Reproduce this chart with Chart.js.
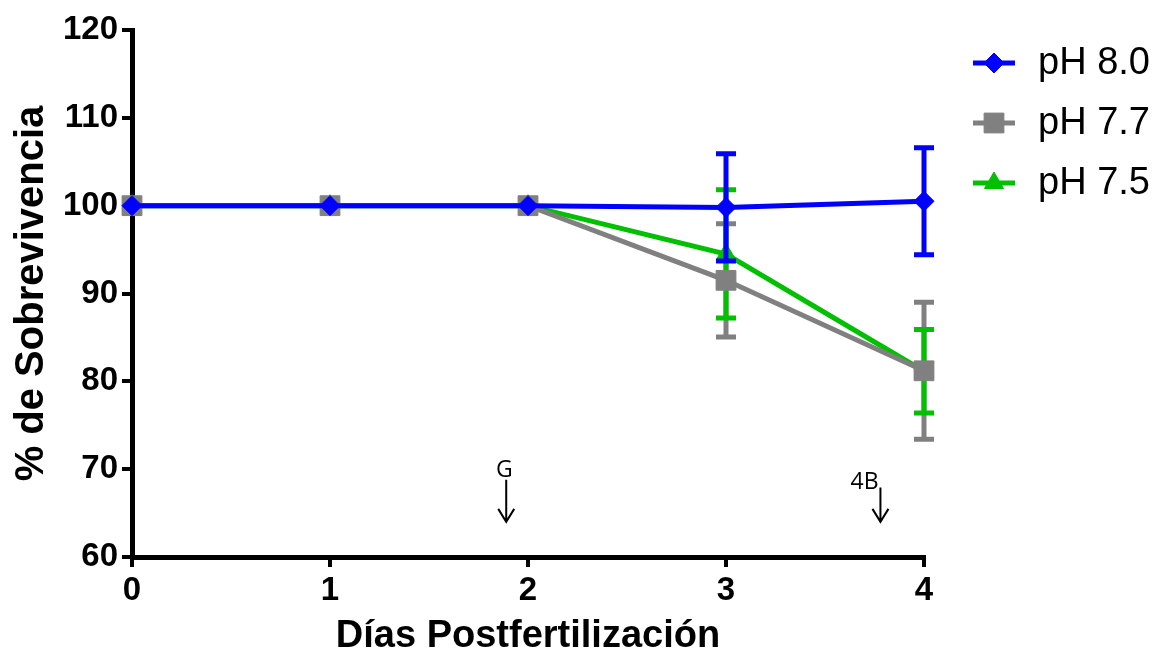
<!DOCTYPE html>
<html>
<head>
<meta charset="utf-8">
<script src="https://cdn.jsdelivr.net/npm/chart.js@4/dist/chart.umd.min.js"></script>
<style>
  body { margin: 0; background: #fff; }
  #wrap { width: 1155px; height: 656px; }
</style>
</head>
<body>
<div id="wrap"><canvas id="surv" width="1155" height="656"></canvas></div>
<script>
const days = [0, 1, 2, 3, 4];

const ph80 = [100, 100, 100, 99.8, 100.5];
const err80 = [0, 0, 0, 6.1, 6.1];
const ph77 = [100, 100, 100, 91.5, 81.2];
const err77 = [0, 0, 0, 6.45, 7.8];
const ph75 = [100, 100, 100, 94.5, 81.15];
const err75 = [0, 0, 0, 7.3, 4.75];

// stage marks under the curves
const stageText = ['G', '4B'];
const stageDay = [1.89, 3.78];
const stageTop = [68.8, 67.9];
const stageTip = [64.0, 64.0];
const stageLabelDay = [1.88, 3.70];
const stageLabelY = [69.9, 68.5];

const FONT = "'Liberation Sans', Arial, sans-serif";
const BLUE = '#0000ff', GRAY = '#808080', GREEN = '#00c000';

const pts = (ys) => days.map((d, i) => ({ x: d, y: ys[i] }));

const series = (label, ys, err, color, style, radius, order) => ({
  label, data: pts(ys), err,
  borderColor: color, backgroundColor: color, borderWidth: 5,
  pointStyle: style, pointRadius: radius, pointHoverRadius: radius,
  pointBackgroundColor: color, pointBorderColor: color, pointBorderWidth: 1,
  tension: 0, order, clip: false,
});

function errBars(chart, idx) {
  const ds = chart.data.datasets[idx];
  const { x, y } = chart.scales;
  const ctx = chart.ctx;
  ctx.save();
  ctx.strokeStyle = ds.borderColor;
  ctx.lineWidth = 5;
  ds.data.forEach((p, i) => {
    const e = ds.err[i];
    if (!e) return;
    const px = x.getPixelForValue(p.x);
    const hi = y.getPixelForValue(p.y + e), lo = y.getPixelForValue(p.y - e);
    ctx.beginPath();
    ctx.moveTo(px, hi); ctx.lineTo(px, lo);
    ctx.moveTo(px - 10, hi); ctx.lineTo(px + 10, hi);
    ctx.moveTo(px - 10, lo); ctx.lineTo(px + 10, lo);
    ctx.stroke();
  });
  ctx.restore();
}

const errorBars = {
  id: 'errorBars',
  // gray and green bars sit under every curve, blue bars right under the blue curve
  beforeDatasetsDraw(chart) { errBars(chart, 1); errBars(chart, 2); },
  beforeDatasetDraw(chart, args) { if (args.index === 0) errBars(chart, 0); },
};

const sideLegend = {
  id: 'sideLegend',
  afterDraw(chart) {
    const ctx = chart.ctx;
    chart.data.datasets.forEach((ds, i) => {
      const cy = 63 + i * 60;
      ctx.save();
      ctx.strokeStyle = ds.borderColor;
      ctx.fillStyle = ds.backgroundColor;
      ctx.lineWidth = 5;
      ctx.beginPath(); ctx.moveTo(973, cy); ctx.lineTo(1015, cy); ctx.stroke();
      ctx.lineWidth = 1;
      Chart.helpers.drawPoint(ctx, { pointStyle: ds.pointStyle, radius: ds.pointRadius, rotation: 0, borderWidth: 1 }, 994, cy);
      ctx.fillStyle = '#000';
      ctx.font = '38px ' + FONT;
      ctx.textBaseline = 'middle';
      ctx.fillText(ds.label, 1038, cy + 1);
      ctx.restore();
    });
  },
};

const stages = {
  id: 'stages',
  afterDraw(chart) {
    const { x, y } = chart.scales;
    const ctx = chart.ctx;
    ctx.save();
    ctx.strokeStyle = '#000';
    ctx.fillStyle = '#000';
    ctx.lineWidth = 2;
    ctx.font = "23px 'Open Sans', sans-serif";
    ctx.textAlign = 'center';
    ctx.textBaseline = 'middle';
    stageText.forEach((t, i) => {
      const px = x.getPixelForValue(stageDay[i]);
      const top = y.getPixelForValue(stageTop[i]), tip = y.getPixelForValue(stageTip[i]);
      ctx.beginPath();
      ctx.moveTo(px, top); ctx.lineTo(px, tip);
      ctx.moveTo(px - 8, tip - 13); ctx.lineTo(px, tip); ctx.lineTo(px + 8, tip - 13);
      ctx.stroke();
      ctx.fillText(t, x.getPixelForValue(stageLabelDay[i]), y.getPixelForValue(stageLabelY[i]));
    });
    ctx.restore();
  },
};

new Chart(document.getElementById('surv'), {
  type: 'line',
  data: { datasets: [
    series('pH 8.0', ph80, err80, BLUE, 'rectRot', 10, 1),
    series('pH 7.7', ph77, err77, GRAY, 'rect', 14, 2),
    series('pH 7.5', ph75, err75, GREEN, 'triangle', 11, 3),
  ]},
  options: {
    responsive: false, animation: false,
    layout: { padding: { left: 0, right: 231, top: 30, bottom: 0 } },
    plugins: { legend: { display: false }, tooltip: { enabled: false } },
    scales: {
      x: {
        type: 'linear', min: 0, max: 4,
        afterFit: s => { s.height = 99; },
        ticks: { stepSize: 1, color: '#000', padding: 4, font: { family: FONT, size: 33, weight: 'bold' } },
        grid: { drawOnChartArea: false, tickLength: 10, lineWidth: 4, color: '#000' },
        border: { color: '#000', width: 5 },
        title: { display: true, text: 'Días Postfertilización', color: '#000', padding: { top: 2, bottom: 0 },
                 font: { family: FONT, size: 38, weight: 'bold', lineHeight: 1.0 } },
      },
      y: {
        min: 60, max: 120,
        afterFit: s => { s.width = 132; },
        ticks: { stepSize: 10, color: '#000', padding: 4, font: { family: FONT, size: 33, weight: 'bold' } },
        grid: { drawOnChartArea: false, tickLength: 10, lineWidth: 4, color: '#000' },
        border: { color: '#000', width: 5 },
        title: { display: true, text: '% de Sobrevivencia', color: '#000', padding: { top: 8, bottom: 0 },
                 font: { family: FONT, size: 40, weight: 'bold' } },
      },
    },
  },
  plugins: [errorBars, sideLegend, stages],
});
</script>
</body>
</html>
